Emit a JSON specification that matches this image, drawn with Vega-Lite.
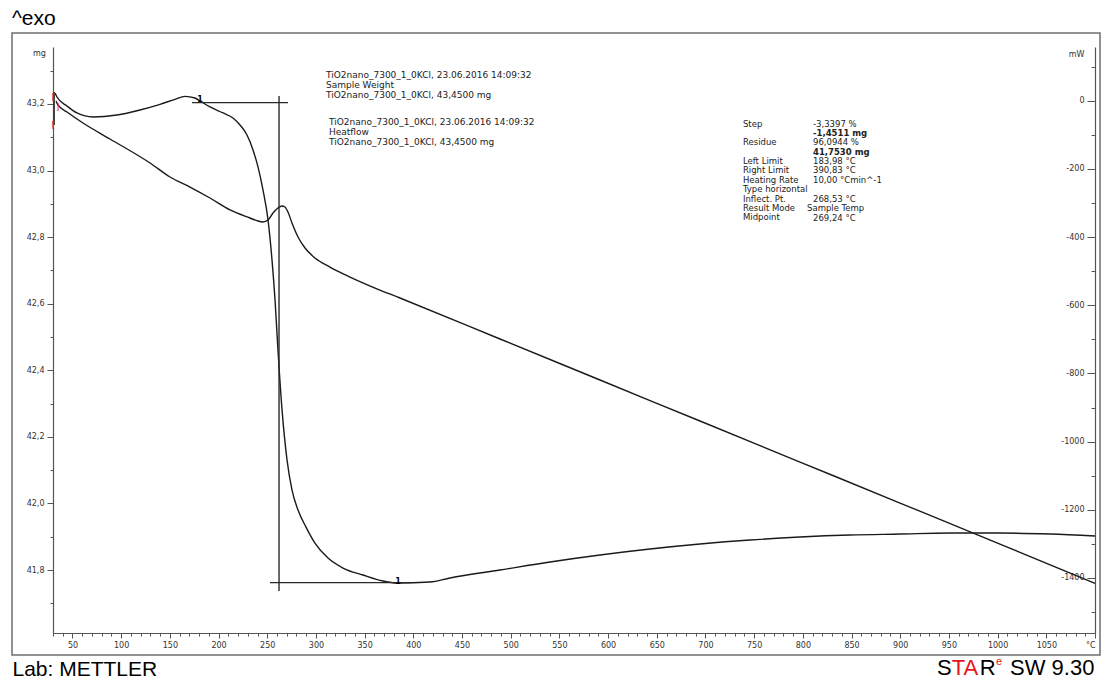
{
  "$schema": "https://vega.github.io/schema/vega-lite/v6.json",
  "width": 1088,
  "height": 622,
  "autosize": {"type": "none"},
  "padding": {"left": 12, "top": 33, "right": 2, "bottom": 24},
  "background": "white",
  "title": {"text": "^exo", "anchor": "start", "frame": "group", "font": "Liberation Sans", "fontSize": 21, "fontWeight": "normal", "color": "#000000", "baseline": "alphabetic", "offset": 8, "dy": 21},
  "config": {
    "view": {"stroke": "#6f6f6f", "strokeWidth": 1.5},
    "font": "DejaVu Sans",
    "axis": {"grid": false, "labelFont": "DejaVu Sans", "labelFontSize": 8, "labelColor": "#333333", "domainColor": "#555555", "domainWidth": 1.2, "tickColor": "#555555", "tickWidth": 1, "labelFlush": false, "labelOverlap": false, "labelBound": false, "titleFont": "DejaVu Sans", "titleFontSize": 8, "titleFontWeight": "normal", "titleColor": "#333333"}
  },
  "layer": [
    {
      "data": {"values": [
        {"T": 32.1, "mg": 43.233}, {"T": 34.1, "mg": 43.221}, {"T": 44.4, "mg": 43.194}, {"T": 54.6, "mg": 43.173}, {"T": 71.1, "mg": 43.161}, {"T": 95.7, "mg": 43.167}, {"T": 119.3, "mg": 43.182}, {"T": 139.9, "mg": 43.199}, {"T": 155.3, "mg": 43.214}, {"T": 165.5, "mg": 43.223}, {"T": 175.8, "mg": 43.218}, {"T": 181.0, "mg": 43.209}, {"T": 191.2, "mg": 43.191}, {"T": 204.6, "mg": 43.173}, {"T": 214.8, "mg": 43.158}, {"T": 222.0, "mg": 43.137}, {"T": 229.2, "mg": 43.107}, {"T": 235.4, "mg": 43.062}, {"T": 240.5, "mg": 43.011}, {"T": 245.6, "mg": 42.942}, {"T": 250.8, "mg": 42.852}, {"T": 254.9, "mg": 42.731}, {"T": 258.0, "mg": 42.611}, {"T": 261.0, "mg": 42.461}, {"T": 265.2, "mg": 42.281}, {"T": 270.3, "mg": 42.131}, {"T": 275.4, "mg": 42.041}, {"T": 281.6, "mg": 41.980}, {"T": 289.8, "mg": 41.929}, {"T": 299.0, "mg": 41.881}, {"T": 312.4, "mg": 41.836}, {"T": 327.8, "mg": 41.806}, {"T": 348.3, "mg": 41.785}, {"T": 368.9, "mg": 41.767}, {"T": 383.2, "mg": 41.761}, {"T": 417.1, "mg": 41.764}, {"T": 437.7, "mg": 41.776}, {"T": 489.0, "mg": 41.800}, {"T": 540.4, "mg": 41.824}, {"T": 591.7, "mg": 41.845}, {"T": 643.0, "mg": 41.863}, {"T": 694.4, "mg": 41.878}, {"T": 745.7, "mg": 41.890}, {"T": 797.1, "mg": 41.899}, {"T": 848.4, "mg": 41.905}, {"T": 899.8, "mg": 41.908}, {"T": 951.1, "mg": 41.911}, {"T": 1002.4, "mg": 41.911}, {"T": 1053.8, "mg": 41.908}, {"T": 1100.0, "mg": 41.902}
      ]},
      "mark": {"type": "line", "color": "#1a1a1a", "strokeWidth": 1.4, "interpolate": "monotone"},
      "encoding": {
        "x": {"field": "T", "type": "quantitative", "scale": {"domain": [30, 1100], "range": [41, 1083], "nice": false, "zero": false},
          "axis": {"orient": "bottom", "offset": -22, "values": [30,40,50,60,70,80,90,100,110,120,130,140,150,160,170,180,190,200,210,220,230,240,250,260,270,280,290,300,310,320,330,340,350,360,370,380,390,400,410,420,430,440,450,460,470,480,490,500,510,520,530,540,550,560,570,580,590,600,610,620,630,640,650,660,670,680,690,700,710,720,730,740,750,760,770,780,790,800,810,820,830,840,850,860,870,880,890,900,910,920,930,940,950,960,970,980,990,1000,1010,1020,1030,1040,1050,1060,1070,1080,1090,1100],
            "labelExpr": "datum.value === 1100 ? '°C' : (datum.value % 50 === 0 ? '' + datum.value : '')",
            "labelAlign": {"condition": {"test": "datum.value === 1100", "value": "right"}, "value": "center"},
            "labelOverlap": false, "labelFlush": false, "labelBound": false,
            "tickSize": {"condition": {"test": "datum.value % 50 === 0", "value": 5}, "value": 3},
            "labelPadding": 3,
            "title": "Lab: METTLER", "titleX": 0, "titleY": 42, "titleAlign": "left", "titleAnchor": "start", "titleBaseline": "alphabetic", "titleFont": "Liberation Sans", "titleFontSize": 21, "titleColor": "#000000"}},
        "y": {"field": "mg", "type": "quantitative", "scale": {"domain": [41.6108, 43.3712], "range": [600, 14], "nice": false, "zero": false},
          "axis": {"orient": "left", "offset": -41, "values": [41.7,41.8,41.9,42.0,42.1,42.2,42.3,42.4,42.5,42.6,42.7,42.8,42.9,43.0,43.1,43.2,43.3],
            "labelExpr": "round(datum.value * 10) % 2 === 0 ? replace(format(datum.value, '.1f'), '.', ',') : ''",
            "labelOverlap": false, "labelFlush": false, "labelBound": false,
            "tickSize": {"condition": {"test": "round(datum.value * 10) % 2 === 0", "value": 6}, "value": 3},
            "labelPadding": 3,
            "title": "mg", "titleAngle": 0, "titleX": -14, "titleY": 22, "titleAlign": "center", "titleBaseline": "alphabetic"}}
      }
    },
    {
      "data": {"values": [
        {"T": 33.1, "mW": -0.9}, {"T": 35.1, "mW": -12.6}, {"T": 44.4, "mW": -33.1}, {"T": 60.8, "mW": -65.4}, {"T": 88.5, "mW": -112.3}, {"T": 129.6, "mW": -182.7}, {"T": 150.1, "mW": -223.8}, {"T": 170.7, "mW": -253.2}, {"T": 191.2, "mW": -285.4}, {"T": 211.8, "mW": -320.6}, {"T": 232.3, "mW": -344.1}, {"T": 240.5, "mW": -352.9}, {"T": 245.6, "mW": -355.8}, {"T": 250.8, "mW": -350.0}, {"T": 255.9, "mW": -329.4}, {"T": 261.0, "mW": -314.8}, {"T": 265.2, "mW": -308.9}, {"T": 268.2, "mW": -311.8}, {"T": 271.3, "mW": -326.5}, {"T": 275.4, "mW": -358.8}, {"T": 281.6, "mW": -399.8}, {"T": 288.8, "mW": -432.1}, {"T": 299.0, "mW": -461.5}, {"T": 314.4, "mW": -487.9}, {"T": 335.0, "mW": -517.2}, {"T": 360.7, "mW": -549.5}, {"T": 386.3, "mW": -578.8}, {"T": 489.0, "mW": -699.0}, {"T": 591.7, "mW": -819.3}, {"T": 694.4, "mW": -939.6}, {"T": 797.1, "mW": -1059.9}, {"T": 899.8, "mW": -1180.2}, {"T": 1002.4, "mW": -1300.5}, {"T": 1100.0, "mW": -1416.0}
      ]},
      "mark": {"type": "line", "color": "#1a1a1a", "strokeWidth": 1.4, "interpolate": "monotone"},
      "encoding": {
        "x": {"field": "T", "type": "quantitative", "scale": {"domain": [30, 1100], "range": [41, 1083], "nice": false, "zero": false}, "axis": null},
        "y": {"field": "mW", "type": "quantitative", "scale": {"domain": [-1561.4, 157.5], "range": [600, 14], "nice": false, "zero": false},
          "axis": {"orient": "right", "offset": -5, "values": [-1500,-1400,-1300,-1200,-1100,-1000,-900,-800,-700,-600,-500,-400,-300,-200,-100,0,100],
            "labelExpr": "datum.value % 200 === 0 ? '' + datum.value : ''",
            "labelOverlap": false, "labelFlush": false, "labelBound": false,
            "tickSize": {"condition": {"test": "datum.value % 200 === 0", "value": -8}, "value": -4},
            "labelPadding": -3, "labelAlign": "right",
            "title": "mW", "titleAngle": 0, "titleX": -19, "titleY": 23, "titleAlign": "center", "titleBaseline": "alphabetic"}}
      }
    },
    {
      "encoding": {
        "x": {"type": "quantitative", "scale": {"domain": [30, 1100], "range": [41, 1083], "nice": false, "zero": false}, "axis": null},
        "y": {"type": "quantitative", "scale": {"domain": [41.6108, 43.3712], "range": [600, 14], "nice": false, "zero": false}, "axis": null}
      },
      "layer": [
        {
          "data": {"values": [
            {"T1": 172.7, "T2": 271.3, "m1": 43.204, "m2": 43.204},
            {"T1": 252.8, "T2": 396.6, "m1": 41.762, "m2": 41.762},
            {"T1": 262.1, "T2": 262.1, "m1": 43.224, "m2": 41.737},
            {"T1": 31.2, "T2": 31.2, "m1": 43.236, "m2": 43.137}
          ]},
          "mark": {"type": "rule", "color": "#2a2a2a", "strokeWidth": 1.4},
          "encoding": {
            "x": {"field": "T1", "type": "quantitative", "axis": null},
            "x2": {"field": "T2"},
            "y": {"field": "m1", "type": "quantitative", "axis": null},
            "y2": {"field": "m2"}
          }
        },
        {
          "data": {"values": [{"T": 30.3, "mg": 43.222, "s": "["}, {"T": 34.6, "mg": 43.190, "s": "]"}, {"T": 30.3, "mg": 43.137, "s": "["}]},
          "mark": {"type": "text", "color": "#e02020", "fontSize": 9, "align": "center", "baseline": "middle"},
          "encoding": {"x": {"field": "T", "type": "quantitative", "axis": null}, "y": {"field": "mg", "type": "quantitative", "axis": null}, "text": {"field": "s"}}
        },
        {
          "data": {"values": [{"T": 384.3, "mg": 41.764, "s": "1"}, {"T": 181.0, "mg": 43.212, "s": "1"}]},
          "mark": {"type": "text", "color": "#000000", "fontSize": 8, "fontWeight": "bold", "align": "center", "baseline": "middle"},
          "encoding": {"x": {"field": "T", "type": "quantitative", "axis": null}, "y": {"field": "mg", "type": "quantitative", "axis": null}, "text": {"field": "s"}}
        },
        {
          "data": {"values": [{}]},
          "mark": {"type": "text", "align": "left", "baseline": "top", "font": "DejaVu Sans", "fontSize": 9, "lineHeight": 10, "color": "#222222"},
          "encoding": {"x": {"datum": 310.3, "axis": null}, "y": {"datum": 43.2985, "axis": null}, "text": {"value": ["TiO2nano_7300_1_0KCl, 23.06.2016 14:09:32", "Sample Weight", "TiO2nano_7300_1_0KCl, 43,4500 mg"]}}
        },
        {
          "data": {"values": [{}]},
          "mark": {"type": "text", "align": "left", "baseline": "top", "font": "DejaVu Sans", "fontSize": 9, "lineHeight": 10, "color": "#222222"},
          "encoding": {"x": {"datum": 313.4, "axis": null}, "y": {"datum": 43.1573, "axis": null}, "text": {"value": ["TiO2nano_7300_1_0KCl, 23.06.2016 14:09:32", "Heatflow", "TiO2nano_7300_1_0KCl, 43,4500 mg"]}}
        },
        {
          "data": {"values": [{}]},
          "mark": {"type": "text", "align": "left", "baseline": "top", "font": "DejaVu Sans", "fontSize": 8.5, "color": "#222222"},
          "encoding": {"x": {"datum": 738.5, "axis": null}, "y": {"datum": 43.1534, "axis": null}, "text": {"value": "Step"}}
        },
        {
          "data": {"values": [{}]},
          "mark": {"type": "text", "align": "left", "baseline": "top", "font": "DejaVu Sans", "fontSize": 8.5, "color": "#222222", "dy": 18.8},
          "encoding": {"x": {"datum": 738.5, "axis": null}, "y": {"datum": 43.1534, "axis": null}, "text": {"value": "Residue"}}
        },
        {
          "data": {"values": [{}]},
          "mark": {"type": "text", "align": "left", "baseline": "top", "font": "DejaVu Sans", "fontSize": 8.5, "lineHeight": 9.4, "color": "#222222", "dy": 37.6},
          "encoding": {"x": {"datum": 738.5, "axis": null}, "y": {"datum": 43.1534, "axis": null}, "text": {"value": ["Left Limit", "Right Limit", "Heating Rate", "Type horizontal", "Inflect. Pt.", "Result Mode", "Midpoint"]}}
        },
        {
          "data": {"values": [{}]},
          "mark": {"type": "text", "align": "left", "baseline": "top", "font": "DejaVu Sans", "fontSize": 8.5, "color": "#222222"},
          "encoding": {"x": {"datum": 810.4, "axis": null}, "y": {"datum": 43.1534, "axis": null}, "text": {"value": "-3,3397 %"}}
        },
        {
          "data": {"values": [{}]},
          "mark": {"type": "text", "align": "left", "baseline": "top", "font": "DejaVu Sans", "fontSize": 8.5, "fontWeight": "bold", "color": "#222222", "dy": 9.4},
          "encoding": {"x": {"datum": 810.4, "axis": null}, "y": {"datum": 43.1534, "axis": null}, "text": {"value": "-1,4511 mg"}}
        },
        {
          "data": {"values": [{}]},
          "mark": {"type": "text", "align": "left", "baseline": "top", "font": "DejaVu Sans", "fontSize": 8.5, "color": "#222222", "dy": 18.8},
          "encoding": {"x": {"datum": 810.4, "axis": null}, "y": {"datum": 43.1534, "axis": null}, "text": {"value": "96,0944 %"}}
        },
        {
          "data": {"values": [{}]},
          "mark": {"type": "text", "align": "left", "baseline": "top", "font": "DejaVu Sans", "fontSize": 8.5, "fontWeight": "bold", "color": "#222222", "dy": 28.2},
          "encoding": {"x": {"datum": 810.4, "axis": null}, "y": {"datum": 43.1534, "axis": null}, "text": {"value": "41,7530 mg"}}
        },
        {
          "data": {"values": [{}]},
          "mark": {"type": "text", "align": "left", "baseline": "top", "font": "DejaVu Sans", "fontSize": 8.5, "lineHeight": 9.4, "color": "#222222", "dy": 37.6},
          "encoding": {"x": {"datum": 810.4, "axis": null}, "y": {"datum": 43.1534, "axis": null}, "text": {"value": ["183,98 °C", "390,83 °C", "10,00 °Cmin^-1"]}}
        },
        {
          "data": {"values": [{}]},
          "mark": {"type": "text", "align": "left", "baseline": "top", "font": "DejaVu Sans", "fontSize": 8.5, "color": "#222222", "dy": 75.2},
          "encoding": {"x": {"datum": 810.4, "axis": null}, "y": {"datum": 43.1534, "axis": null}, "text": {"value": "268,53 °C"}}
        },
        {
          "data": {"values": [{}]},
          "mark": {"type": "text", "align": "left", "baseline": "top", "font": "DejaVu Sans", "fontSize": 8.5, "color": "#222222", "dy": 84.6},
          "encoding": {"x": {"datum": 804.3, "axis": null}, "y": {"datum": 43.1534, "axis": null}, "text": {"value": "Sample Temp"}}
        },
        {
          "data": {"values": [{}]},
          "mark": {"type": "text", "align": "left", "baseline": "top", "font": "DejaVu Sans", "fontSize": 8.5, "color": "#222222", "dy": 94},
          "encoding": {"x": {"datum": 810.4, "axis": null}, "y": {"datum": 43.1534, "axis": null}, "text": {"value": "269,24 °C"}}
        },
        {
          "data": {"values": [{}]},
          "mark": {"type": "text", "align": "left", "baseline": "alphabetic", "font": "Liberation Sans", "fontSize": 22, "color": "#000000"},
          "encoding": {"x": {"datum": 937.75, "axis": null}, "y": {"datum": 41.4848, "axis": null}, "text": {"value": "S"}}
        },
        {
          "data": {"values": [{}]},
          "mark": {"type": "text", "align": "left", "baseline": "alphabetic", "font": "Liberation Sans", "fontSize": 22, "color": "#e8141b", "dx": 14.7},
          "encoding": {"x": {"datum": 937.75, "axis": null}, "y": {"datum": 41.4848, "axis": null}, "text": {"value": "TA"}}
        },
        {
          "data": {"values": [{}]},
          "mark": {"type": "text", "align": "left", "baseline": "alphabetic", "font": "Liberation Sans", "fontSize": 22, "color": "#000000", "dx": 42.8},
          "encoding": {"x": {"datum": 937.75, "axis": null}, "y": {"datum": 41.4848, "axis": null}, "text": {"value": "R"}}
        },
        {
          "data": {"values": [{}]},
          "mark": {"type": "text", "align": "left", "baseline": "alphabetic", "font": "Liberation Sans", "fontSize": 11, "color": "#e8141b", "dx": 59, "dy": -10},
          "encoding": {"x": {"datum": 937.75, "axis": null}, "y": {"datum": 41.4848, "axis": null}, "text": {"value": "e"}}
        },
        {
          "data": {"values": [{}]},
          "mark": {"type": "text", "align": "left", "baseline": "alphabetic", "font": "Liberation Sans", "fontSize": 22, "color": "#000000", "dx": 73},
          "encoding": {"x": {"datum": 937.75, "axis": null}, "y": {"datum": 41.4848, "axis": null}, "text": {"value": "SW 9.30"}}
        }
      ]
    }
  ],
  "resolve": {"scale": {"x": "independent", "y": "independent"}, "axis": {"x": "independent", "y": "independent"}}
}
